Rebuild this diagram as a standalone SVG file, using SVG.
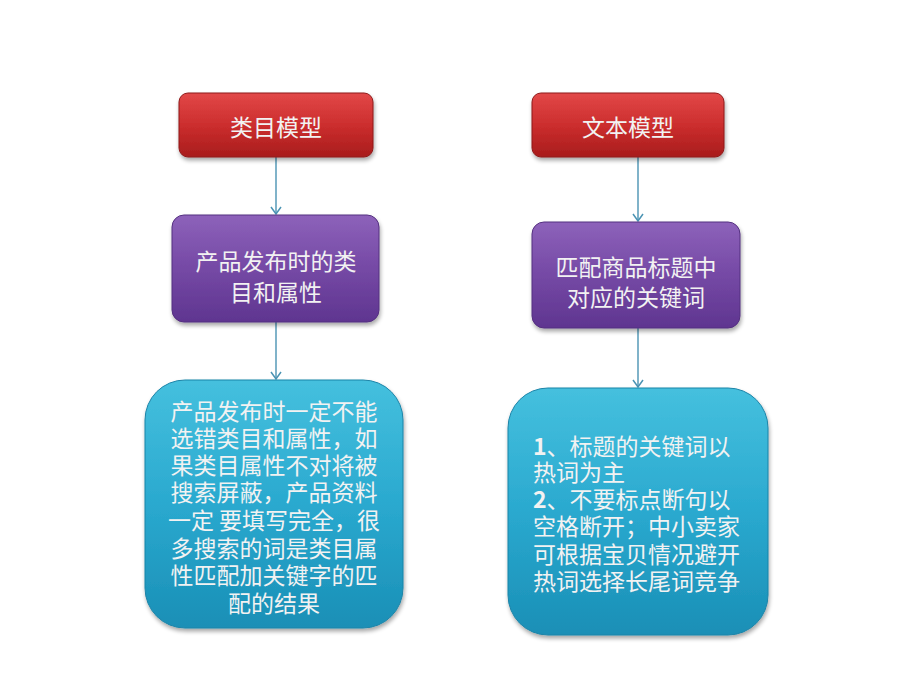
<svg xmlns="http://www.w3.org/2000/svg" width="920" height="690" viewBox="0 0 920 690">
<defs>
<linearGradient id="gRed" x1="0" y1="0" x2="0" y2="1">
<stop offset="0" stop-color="#e24848"/><stop offset="0.5" stop-color="#cc2e2e"/><stop offset="1" stop-color="#a81c1c"/>
</linearGradient>
<linearGradient id="gPur" x1="0" y1="0" x2="0" y2="1">
<stop offset="0" stop-color="#8d62ba"/><stop offset="0.5" stop-color="#7549a5"/><stop offset="1" stop-color="#5f3590"/>
</linearGradient>
<linearGradient id="gBlu" x1="0" y1="0" x2="0" y2="1">
<stop offset="0" stop-color="#45c0de"/><stop offset="0.5" stop-color="#2aa9cf"/><stop offset="1" stop-color="#1a8fb6"/>
</linearGradient>
<filter id="sh" x="-10%" y="-10%" width="120%" height="130%">
<feGaussianBlur in="SourceAlpha" stdDeviation="2"/>
<feOffset dx="1" dy="3"/>
<feComponentTransfer><feFuncA type="linear" slope="0.35"/></feComponentTransfer>
<feMerge><feMergeNode/><feMergeNode in="SourceGraphic"/></feMerge>
</filter>
<marker id="arr" markerWidth="12" markerHeight="12" refX="8" refY="6" orient="auto" markerUnits="userSpaceOnUse" viewBox="0 0 12 12" overflow="visible">
<path d="M1,1 L8,6 L1,11" fill="none" stroke="#4a93b3" stroke-width="1.5"/>
</marker>
</defs>
<style>
.t{font-family:"Noto Sans CJK SC","Noto Sans",sans-serif;font-size:23px;fill:#f2f2f2;text-anchor:middle}
.tl{font-family:"Noto Sans CJK SC","Noto Sans",sans-serif;font-size:23px;fill:#f2f2f2}
.red{fill:url(#gRed);stroke:#8e1a1a;stroke-width:1}
.pur{fill:url(#gPur);stroke:#553080;stroke-width:1}
.blu{fill:url(#gBlu);stroke:#1b84a8;stroke-width:1}
.c{stroke:#4a93b3;stroke-width:1.4;fill:none}
</style>
<rect width="920" height="690" fill="#ffffff"/>
<g id="connectors">
<path class="c" d="M276,157 V214" marker-end="url(#arr)"/>
<path class="c" d="M276,322 V379" marker-end="url(#arr)"/>
<path class="c" d="M638,157 V221" marker-end="url(#arr)"/>
<path class="c" d="M638,328 V387" marker-end="url(#arr)"/>
</g>
<g id="node-lei-mu-mo-xing">
<rect class="red" x="179" y="93" width="194" height="64" rx="9" filter="url(#sh)"/>
<text class="t" x="276" y="136">类目模型</text>
</g>
<g id="node-wen-ben-mo-xing">
<rect class="red" x="532" y="93" width="192" height="64" rx="9" filter="url(#sh)"/>
<text class="t" x="628" y="136">文本模型</text>
</g>
<g id="node-lei-mu-shu-xing">
<rect class="pur" x="172" y="215" width="207" height="107" rx="12" filter="url(#sh)"/>
<text class="t" x="276" y="270">产品发布时的类</text>
<text class="t" x="276" y="301">目和属性</text>
</g>
<g id="node-pi-pei-guan-jian-ci">
<rect class="pur" x="532" y="222" width="208" height="106" rx="12" filter="url(#sh)"/>
<text class="t" x="636" y="276">匹配商品标题中</text>
<text class="t" x="636" y="306">对应的关键词</text>
</g>
<g id="node-left-detail">
<rect class="blu" x="145" y="380" width="258" height="248" rx="40" filter="url(#sh)"/>
<text class="t" x="274" y="420">产品发布时一定不能</text>
<text class="t" x="274" y="447">选错类目和属性，如</text>
<text class="t" x="274" y="474">果类目属性不对将被</text>
<text class="t" x="274" y="501">搜索屏蔽，产品资料</text>
<text class="t" x="274" y="529">一定 要填写完全，很</text>
<text class="t" x="274" y="557">多搜索的词是类目属</text>
<text class="t" x="274" y="584">性匹配加关键字的匹</text>
<text class="t" x="274" y="612">配的结果</text>
</g>
<g id="node-right-detail">
<rect class="blu" x="508" y="388" width="260" height="247" rx="40" filter="url(#sh)"/>
<text class="tl" x="533" y="455"><tspan font-weight="bold">1</tspan>、标题的关键词以</text>
<text class="tl" x="533" y="481">热词为主</text>
<text class="tl" x="533" y="508"><tspan font-weight="bold">2</tspan>、不要标点断句以</text>
<text class="tl" x="533" y="535">空格断开；中小卖家</text>
<text class="tl" x="533" y="563">可根据宝贝情况避开</text>
<text class="tl" x="533" y="590">热词选择长尾词竞争</text>
</g>
</svg>
